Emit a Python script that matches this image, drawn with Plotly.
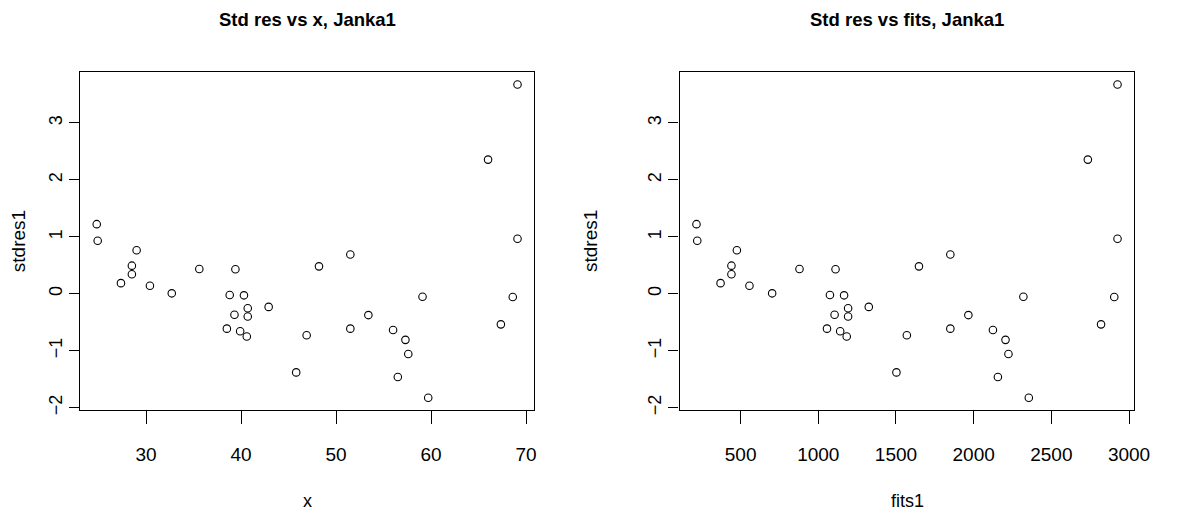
import plotly.graph_objects as go

# Data
x_density = [24.8, 24.9, 29.0, 28.5, 28.5, 27.35, 30.4, 32.7, 35.6, 39.4, 38.8, 40.3,
             40.7, 40.7, 39.3, 42.9, 38.5, 39.9, 40.6, 45.8, 46.9, 48.2, 51.5, 51.5,
             53.4, 56.0, 57.3, 57.6, 56.5, 59.1, 59.7, 69.1, 66.0, 69.1, 68.6, 67.35]
fits1 = [216, 221, 476, 441, 441, 371, 557, 703, 879, 1111, 1075, 1166,
         1192, 1192, 1105, 1325, 1056, 1141, 1183, 1503, 1570, 1648, 1850, 1850,
         1966, 2124, 2205, 2224, 2156, 2320, 2355, 2926, 2735, 2926, 2905, 2820]
stdres1 = [1.222, 0.932, 0.764, 0.493, 0.342, 0.186, 0.139, 0.007, 0.434, 0.429, -0.023, -0.028,
           -0.254, -0.399, -0.370, -0.231, -0.613, -0.660, -0.752, -1.382, -0.729, 0.481, 0.689, -0.613,
           -0.375, -0.636, -0.810, -1.059, -1.464, -0.052, -1.828, 3.675, 2.356, 0.967, -0.057, -0.538]

x_ticks = [30, 40, 50, 60, 70]
fits_ticks = [500, 1000, 1500, 2000, 2500, 3000]
y_ticks = [-2, -1, 0, 1, 2, 3]
y_ticktext = ["\u22122", "\u22121", "0", "1", "2", "3"]

W, H = 1177, 521
FONT = "Liberation Sans, Arial, Helvetica, sans-serif"


def ext(lo, hi):
    d = (hi - lo) * 0.04
    return [lo - d, hi + d]


fig = go.Figure()
marker = dict(symbol="circle-open", size=7.5, color="black", line=dict(width=1.1, color="black"))
fig.add_trace(go.Scatter(x=x_density, y=stdres1, mode="markers", marker=marker,
                         xaxis="x", yaxis="y", showlegend=False))
fig.add_trace(go.Scatter(x=fits1, y=stdres1, mode="markers", marker=marker,
                         xaxis="x2", yaxis="y2", showlegend=False))

dom1 = [81 / W, 541.7 / W]
dom2 = [689 / W, 1150 / W]
ydom = [(H - 414.3) / H, (H - 72.7) / H]

xax = dict(showgrid=False, zeroline=False, showline=True, mirror=True, linecolor="black",
           linewidth=1.3, ticks="outside", ticklen=13, tickwidth=1, tickcolor="black",
           tickfont=dict(family=FONT, size=19, color="black"), ticklabelstandoff=14)
yax = dict(showgrid=False, zeroline=False, showline=True, mirror=True, linecolor="black",
           linewidth=1.3, ticks="outside", ticklen=10, tickwidth=1, tickcolor="black",
           tickangle=-90, tickfont=dict(family=FONT, size=18, color="black"),
           tickvals=y_ticks, ticktext=y_ticktext,
           range=ext(min(stdres1), max(stdres1)), domain=ydom)

fig.update_layout(
    width=W, height=H, autosize=False,
    margin=dict(l=0, r=0, t=0, b=0),
    paper_bgcolor="white", plot_bgcolor="white",
    xaxis=dict(xax, domain=dom1, range=ext(min(x_density), max(x_density)),
               tickvals=x_ticks, anchor="y"),
    yaxis=dict(yax, anchor="x"),
    xaxis2=dict(xax, domain=dom2, range=ext(min(fits1), max(fits1)),
                tickvals=fits_ticks, anchor="y2"),
    yaxis2=dict(yax, anchor="x2"),
)

ann = []
cx1 = (dom1[0] + dom1[1]) / 2
cx2 = (dom2[0] + dom2[1]) / 2
ycen = (ydom[0] + ydom[1]) / 2
for txt, cx in [("<b>Std res vs x, Janka1</b>", cx1), ("<b>Std res vs fits, Janka1</b>", cx2)]:
    ann.append(dict(text=txt, x=cx, y=1 - 20 / H, xref="paper", yref="paper",
                    showarrow=False, xanchor="center", yanchor="middle",
                    font=dict(family=FONT, size=18.5, color="black")))
for txt, cx in [("x", cx1), ("fits1", cx2)]:
    ann.append(dict(text=txt, x=cx, y=1 - 506 / H, xref="paper", yref="paper",
                    showarrow=False, xanchor="center", yanchor="middle",
                    font=dict(family=FONT, size=18, color="black")))
for px in [18.3, 598]:
    ann.append(dict(text="stdres1", x=px / W, y=ycen, xref="paper", yref="paper", textangle=-90,
                    showarrow=False, xanchor="center", yanchor="middle",
                    font=dict(family=FONT, size=19, color="black")))
fig.update_layout(annotations=ann)

fig.write_html("out.html", config={"displayModeBar": False},
               post_script="document.body.style.margin='0';")
